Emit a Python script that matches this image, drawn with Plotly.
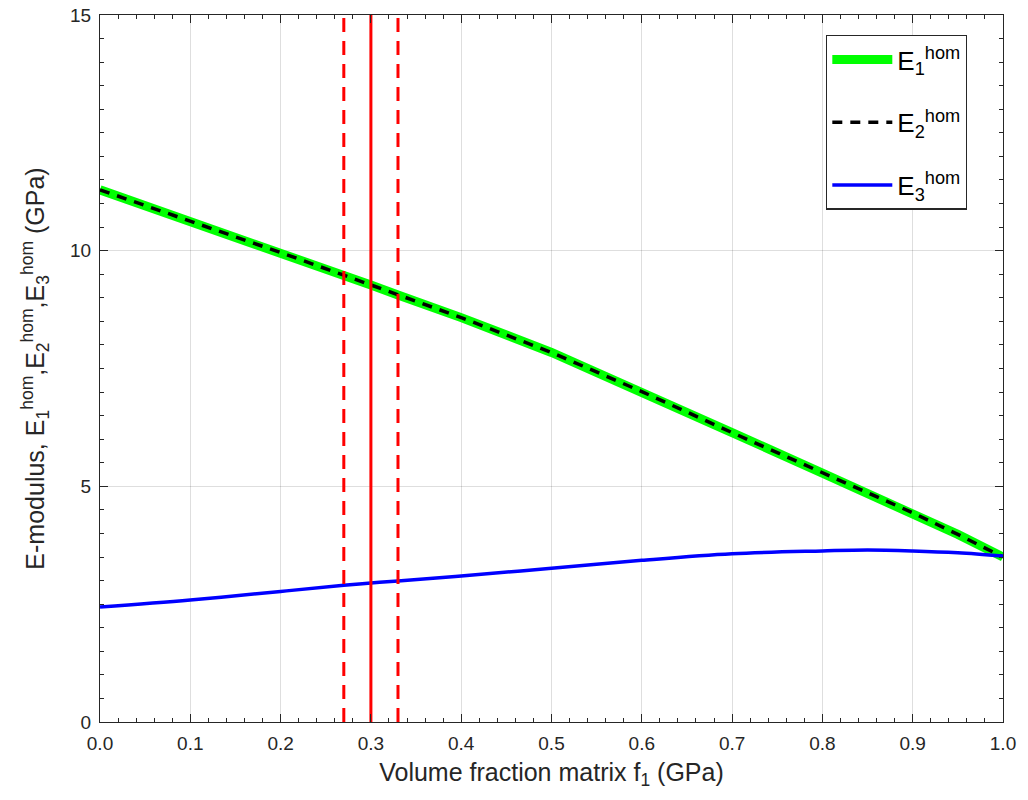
import plotly.graph_objects as go

f1 = [0.0, 0.1, 0.2, 0.27, 0.3, 0.33, 0.4, 0.5, 0.6, 0.7, 0.8, 0.85, 0.9, 0.95, 1.0]
E1 = [11.29, 10.63, 9.96, 9.48, 9.27, 9.06, 8.58, 7.84, 7.01, 6.14, 5.28, 4.86, 4.44, 3.98, 3.50]
E2 = E1
E3 = [2.44, 2.59, 2.77, 2.90, 2.95, 2.99, 3.10, 3.26, 3.43, 3.57, 3.63, 3.65, 3.63, 3.59, 3.52]

vline_x = [0.27, 0.30, 0.33]
vline_dash = ["14px,9px", "solid", "14px,9px"]
y_range = [0, 15]

fig = go.Figure()
fig.add_trace(go.Scatter(x=f1, y=E1, mode="lines", name="E<sub>1</sub><sup>hom</sup>", legendgroup="a",
                         line=dict(color="#00ff00", width=9)))
fig.add_trace(go.Scatter(x=f1, y=E2, mode="lines", name="E<sub>2</sub><sup>hom</sup>", legendgroup="b",
                         line=dict(color="black", width=3.5, dash="10px,8px")))
fig.add_trace(go.Scatter(x=f1, y=E3, mode="lines", name="E<sub>3</sub><sup>hom</sup>", legendgroup="c",
                         line=dict(color="#0000ff", width=3.5, shape="spline")))
for xv, d in zip(vline_x, vline_dash):
    fig.add_trace(go.Scatter(x=[xv, xv], y=y_range, mode="lines", showlegend=False,
                             line=dict(color="#ff0000", width=3, dash=d)))

axis_common = dict(
    automargin=False, ticklabeloverflow="allow",
    showline=True, linecolor="#262626", linewidth=1.3, mirror="ticks",
    ticks="inside", ticklen=8, tickcolor="#262626", tickwidth=1.2,
    showgrid=True, gridcolor="rgba(0,0,0,0.13)", gridwidth=1,
    zeroline=False,
    tickfont=dict(family="Liberation Sans Narrow, Liberation Sans, Arial", size=19, color="#262626"),
)

fig.update_layout(
    width=1020, height=792,
    margin=dict(l=92, r=25, t=7, b=78),
    plot_bgcolor="white", paper_bgcolor="white",
    font=dict(family="Liberation Sans, Arial", color="#262626"),
    xaxis=dict(range=[0, 1], dtick=0.1, tickformat=".1f", ticklabelstandoff=4,
               minor=dict(ticks="inside", dtick=0.02, ticklen=4, tickcolor="#262626", showgrid=False),
               title=dict(text="Volume fraction matrix f<sub>1</sub> (GPa)",
                          font=dict(size=25), standoff=10),
               **axis_common),
    yaxis=dict(range=y_range, dtick=5, ticklabelstandoff=4,
               minor=dict(ticks="inside", dtick=0.5, ticklen=4, tickcolor="#262626", showgrid=False),
               title=dict(text="E-modulus, E<sub>1</sub><sup>hom</sup>,E<sub>2</sub><sup>hom</sup>,E<sub>3</sub><sup>hom</sup> (GPa)",
                          font=dict(size=25), standoff=18),
               **axis_common),
    legend=dict(x=0.804, y=0.972, xanchor="left", yanchor="top",
                bgcolor="white", bordercolor="#262626", borderwidth=1.3,
                font=dict(size=26, color="black"), tracegroupgap=26,
                itemwidth=60),
)

fig.write_html("out.html")
